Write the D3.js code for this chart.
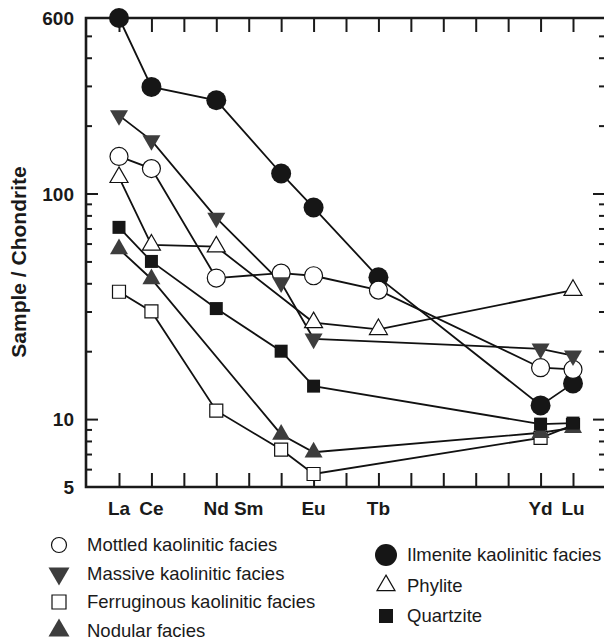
<!DOCTYPE html>
<html>
<head>
<meta charset="utf-8">
<script src="https://cdn.jsdelivr.net/npm/d3@7"></script>
<style>
  body { margin: 0; background: #fff; }
  svg { display: block; font-family: "Liberation Sans", Arial, Helvetica, sans-serif; }
</style>
</head>
<body>
<svg></svg>
<script>
var w = 604, h = 638;

// chondrite-normalised REE, one slot per element (null = not measured)
var elements = ["La","Ce","Pr","Nd","Pm","Sm","Eu","Gd","Tb","Dy","Ho","Er","Tm","Yb","Lu"];
var tickLabels = ["La","Ce","","Nd","Sm","","Eu","","Tb","","","","","Yd","Lu"];
var yMajor = [5, 10, 100, 600];
var yMinor = [6,7,8,9,20,30,40,50,60,70,80,90,200,300,400,500];

var mottled     = [146, 129, null, 42.2, null, 44.4, 43.2, null, 37.3, null, null, null, null, 16.9, 16.6];
var massive     = [222, 172, null, 78,   null, 40.3, 22.7, null, null, null, null, null, null, 20.5, 19.1];
var ferruginous = [36.7, 30, null, 10.9, null, 7.33, 5.71, null, null, null, null, null, null, 8.26, 9.4];
var nodular     = [56.8, 41.8, null, null, null, 8.55, 7.13, null, null, null, null, null, null, 8.7, 9.15];
var ilmenite    = [600, 297, null, 259,  null, 122.7, 86.7, null, 42.5, null, null, null, null, 11.5, 14.4];
var phylite     = [118, 59.2, null, 58.1, null, null, 26.8, null, 25,   null, null, null, null, null, 37.3];
var quartzite   = [70.8, 50, null, 30.9, null, 20,   14,   null, null, null, null, null, null, 9.5, 9.6];

var series = [
  {name: "Ferruginous kaolinitic facies", values: ferruginous, shape: "square",   fill: "#fff"},
  {name: "Ilmenite kaolinitic facies",    values: ilmenite,    shape: "circle",   fill: "#161616"},
  {name: "Mottled kaolinitic facies",     values: mottled,     shape: "circle",   fill: "#fff"},
  {name: "Phylite",                       values: phylite,     shape: "triangle", fill: "#fff"},
  {name: "Massive kaolinitic facies",     values: massive,     shape: "down",     fill: "#3d3d3d"},
  {name: "Nodular facies",                values: nodular,     shape: "triangle", fill: "#3d3d3d"},
  {name: "Quartzite",                     values: quartzite,   shape: "square",   fill: "#161616"}
];

var svg = d3.select("svg").attr("width", w).attr("height", h);

var pLeft = 86, pRight = 605, pTop = 18, pBottom = 487;

var x = d3.scalePoint().domain(elements).range([119, 573]);
var y = d3.scaleLog().domain([5, 600]).range([pBottom, pTop]);

// marker drawing
function marker(g, shape, size, fill) {
  var stroke = fill == "#fff" ? "#111" : "none";
  if (shape == "circle") {
    g.append("circle").attr("r", size)
      .attr("fill", fill).attr("stroke", stroke).attr("stroke-width", 1.2);
  } else {
    var area, rot = 0, type;
    if (shape == "square") { type = d3.symbolSquare; area = size * size; }
    else { type = d3.symbolTriangle; area = size * size * Math.sqrt(3) / 4; if (shape == "down") rot = 180; }
    g.append("path").attr("d", d3.symbol().type(type).size(area)())
      .attr("transform", "rotate(" + rot + ")")
      .attr("fill", fill).attr("stroke", stroke).attr("stroke-width", 1.2);
  }
}

// left & right axes with inward ticks
svg.append("g").attr("transform", "translate(" + pLeft + ",0)")
  .call(d3.axisRight(y).tickValues(yMinor).tickSize(6).tickFormat(""));
svg.append("g").attr("transform", "translate(" + pLeft + ",0)")
  .call(d3.axisRight(y).tickValues([10, 100]).tickSize(12).tickFormat(""));
svg.append("g").attr("transform", "translate(" + pRight + ",0)")
  .call(d3.axisLeft(y).tickValues(yMinor).tickSize(6).tickFormat(""));
svg.append("g").attr("transform", "translate(" + pRight + ",0)")
  .call(d3.axisLeft(y).tickValues([10, 100]).tickSize(12).tickFormat(""));

// top & bottom ticks, inward
svg.append("g").attr("transform", "translate(0," + pBottom + ")")
  .call(d3.axisTop(x).tickSize(14).tickFormat(""));
svg.append("g").attr("transform", "translate(0," + pTop + ")")
  .call(d3.axisBottom(x).tickSize(14).tickFormat(""));

svg.selectAll(".domain").remove();
svg.selectAll(".tick line").attr("stroke", "#1a1a1a").attr("stroke-width", 2);

// frame
svg.append("path")
  .attr("d", "M" + pRight + "," + pTop + "H" + pLeft + "V" + pBottom + "H" + pRight)
  .attr("fill", "none").attr("stroke", "#1a1a1a").attr("stroke-width", 2.6);

// y tick labels
svg.selectAll(".ylab").data(yMajor).join("text")
  .attr("x", 74).attr("y", function(d){ return y(d) + 7; })
  .attr("text-anchor", "end").attr("font-size", 19).attr("font-weight", "bold")
  .attr("fill", "#1a1a1a")
  .text(function(d){ return d; });

// x tick labels
svg.selectAll(".xlab").data(elements.filter(function(d, i){ return tickLabels[i] != ""; })).join("text")
  .attr("x", function(d){ return x(d); }).attr("y", 515)
  .attr("text-anchor", "middle").attr("font-size", 19).attr("font-weight", "bold")
  .attr("fill", "#1a1a1a")
  .text(function(d){ return tickLabels[elements.indexOf(d)]; });

// y title
svg.append("text")
  .attr("transform", "translate(26,262) rotate(-90)")
  .attr("text-anchor", "middle").attr("font-size", 21).attr("font-weight", "bold")
  .attr("fill", "#1a1a1a")
  .text("Sample / Chondrite");

// lines
var line = d3.line().x(function(d){ return x(d.el); }).y(function(d){ return y(d.v); });
function pts(s) {
  return elements.map(function(el, i){ return {el: el, v: s.values[i]}; })
                 .filter(function(d){ return d.v != null; });
}
svg.append("g").selectAll("path").data(series).join("path")
  .attr("d", function(s){ return line(pts(s)); })
  .attr("fill", "none").attr("stroke", "#111").attr("stroke-width", 1.8);

// markers
var sizes = {circle: 9, square: 13, triangle: 18, down: 18};
series.forEach(function(s) {
  var sz = s.shape == "circle" && s.fill != "#fff" ? 10 : sizes[s.shape];
  pts(s).forEach(function(p) {
    var g = svg.append("g").attr("transform", "translate(" + x(p.el) + "," + y(p.v) + ")");
    marker(g, s.shape, sz, s.fill);
  });
});

// legend
var legendLeft = ["Mottled kaolinitic facies", "Massive kaolinitic facies", "Ferruginous kaolinitic facies", "Nodular facies"];
var legendRight = ["Ilmenite kaolinitic facies", "Phylite", "Quartzite"];
var legSizes = {circle: 7.5, square: 14, triangle: 21, down: 21};

function legendItem(name, mx, my, tx) {
  var s = series.find(function(d){ return d.name == name; });
  var g = svg.append("g").attr("transform", "translate(" + mx + "," + my + ")");
  var sz = s.shape == "circle" && s.fill != "#fff" ? 11 : legSizes[s.shape];
  if (s.shape == "triangle" && s.fill == "#fff") sz = 18;
  marker(g, s.shape, sz, s.fill);
  svg.append("text").attr("x", tx).attr("y", my + 6)
    .attr("font-size", 18.5).attr("fill", "#1a1a1a").text(name);
}
legendLeft.forEach(function(n, i){ legendItem(n, 59, 545 + i * 28.5, 87); });
legendRight.forEach(function(n, i){ legendItem(n, 386, 555 + i * 30.5, 407); });
</script>
</body>
</html>
